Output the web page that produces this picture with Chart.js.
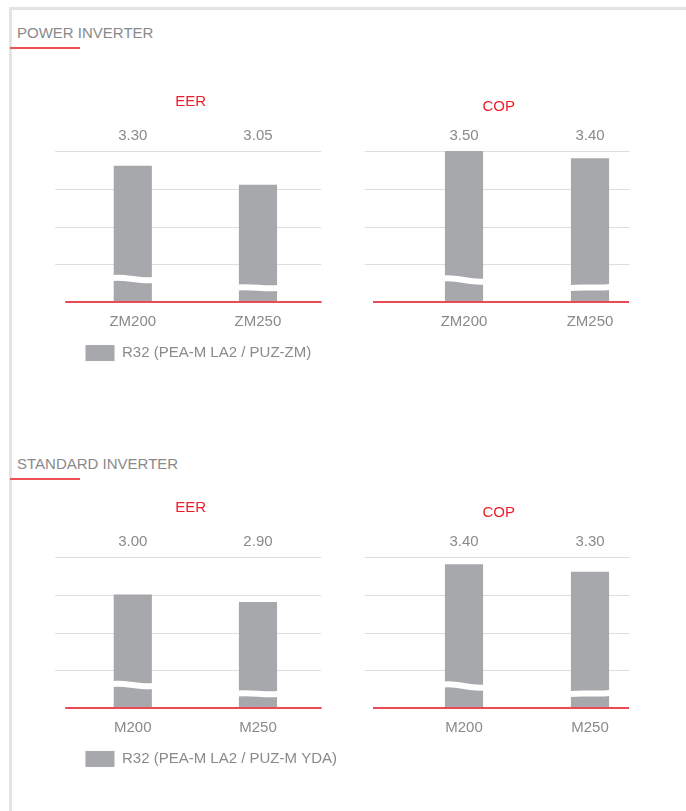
<!DOCTYPE html>
<html>
<head>
<meta charset="utf-8">
<title>Power / Standard Inverter - EER / COP</title>
<script src="https://cdn.jsdelivr.net/npm/chart.js@4.4.1/dist/chart.umd.min.js"></script>
<style>
  body { margin: 0; background: #fff; }
  #page { position: relative; width: 686px; height: 811px; overflow: hidden; font-family: "Liberation Sans", Arial, sans-serif; }
  .frame { position: absolute; left: 9px; top: 7px; right: -10px; bottom: -10px; border-top: 3px solid #e4e4e4; border-left: 3px solid #e4e4e4; }
  .head { position: absolute; left: 17px; font-size: 15px; line-height: 18px; color: #8a8a8a; white-space: nowrap; }
  .rule { position: absolute; left: 10px; width: 70px; height: 2px; background: #ef5058; }
  canvas { position: absolute; }
</style>
</head>
<body>
<div id="page">
  <div class="frame"></div>

  <div class="head" style="top:24px">POWER INVERTER</div>
  <div class="rule" style="top:47px"></div>
  <canvas id="powerEer" width="340" height="286" style="left:20px;top:85px"></canvas>
  <canvas id="powerCop" width="346" height="260" style="left:340px;top:85px"></canvas>

  <div class="head" style="top:455px">STANDARD INVERTER</div>
  <div class="rule" style="top:478px"></div>
  <canvas id="standardEer" width="340" height="286" style="left:20px;top:491px"></canvas>
  <canvas id="standardCop" width="346" height="260" style="left:340px;top:491px"></canvas>
</div>

<script>
// 🔹 DATA
const powerModels = ["ZM200", "ZM250"];
const powerEer = [3.30, 3.05];
const powerCop = [3.50, 3.40];

const standardModels = ["M200", "M250"];
const standardEer = [3.00, 2.90];
const standardCop = [3.40, 3.30];

const axisTicks = [1.5, 2.0, 2.5, 3.0, 3.5];

const powerSeries = "R32 (PEA-M LA2 / PUZ-ZM)";
const standardSeries = "R32 (PEA-M LA2 / PUZ-M YDA)";

// 🎨 STYLE
const GRAY = "#8a8a8a";
const BAR = "#a7a8ac";
const RED = "#ee1d2b";
const RED_LINE = "#eb4b53";
const FONT = '"Liberation Sans", Arial, sans-serif';

Chart.defaults.font.family = FONT;
Chart.defaults.font.size = 15;
Chart.defaults.color = GRAY;

// 🧩 gridlines, axis break, red baseline, value row
const decor = {
    id: "decor",
    beforeDatasetsDraw: (chart, args, opts) => {
        const { ctx, chartArea: a, scales: { y } } = chart;
        ctx.save();
        ctx.strokeStyle = "#dedede";
        ctx.lineWidth = 1;
        y.ticks.forEach(t => {
            if (t.value === y.min) return;
            const py = Math.round(y.getPixelForValue(t.value)) + 0.5;
            ctx.beginPath();
            ctx.moveTo(a.left + opts.grid[0], py);
            ctx.lineTo(a.right + opts.grid[1], py);
            ctx.stroke();
        });
        ctx.restore();
    },
    afterDatasetsDraw: (chart, args, opts) => {
        const { ctx, chartArea: a, scales: { y } } = chart;
        const meta = chart.getDatasetMeta(0);
        const values = chart.data.datasets[0].data;
        const base = y.getPixelForValue(y.min);
        ctx.save();

        // break in each bar
        meta.data.forEach((bar, i) => {
            const [l, r] = opts.breaks[i];
            const x0 = bar.x - bar.width / 2 - 1;
            const x1 = bar.x + bar.width / 2 + 1;
            const y0 = base - l, y1 = base - r;
            const w = x1 - x0;
            ctx.beginPath();
            ctx.moveTo(x0, y0);
            ctx.bezierCurveTo(x0 + w / 3, y0 - 1.5, x0 + 2 * w / 3, y1 + 1.5, x1, y1);
            ctx.strokeStyle = "#fff";
            ctx.lineWidth = 6;
            ctx.stroke();
        });

        // red baseline
        ctx.beginPath();
        ctx.moveTo(a.left + opts.line[0], base);
        ctx.lineTo(a.right + opts.line[1], base);
        ctx.strokeStyle = RED_LINE;
        ctx.lineWidth = 2;
        ctx.stroke();

        // values above the plot
        ctx.fillStyle = GRAY;
        ctx.font = "15px " + FONT;
        ctx.textAlign = "center";
        ctx.textBaseline = "middle";
        meta.data.forEach((bar, i) => ctx.fillText(values[i].toFixed(2), bar.x, a.top - 15));
        ctx.restore();
    }
};

// 📊 CHART
const makeChart = (id, models, values, series, o) => {
    return new Chart(document.getElementById(id), {
        type: "bar",
        data: {
            labels: models,
            datasets: [{
                label: series,
                data: values,
                backgroundColor: BAR,
                borderWidth: 0,
                barThickness: 37.5
            }]
        },
        options: {
            responsive: false,
            animation: false,
            layout: { padding: { left: o.padL, right: o.padR, top: 0, bottom: o.padB } },
            plugins: {
                title: {
                    display: true,
                    text: o.title,
                    color: RED,
                    font: { size: 15, weight: "normal" },
                    padding: { top: o.titleTop, bottom: 48 - o.titleTop }
                },
                legend: {
                    display: o.legend,
                    position: "bottom",
                    align: "end",
                    labels: {
                        boxWidth: 29,
                        boxHeight: 16,
                        padding: 16.5,
                        color: GRAY,
                        font: { size: 15 }
                    }
                },
                tooltip: { enabled: false },
                decor: { grid: o.grid, line: o.line, breaks: o.breaks }
            },
            scales: {
                x: {
                    grid: { display: false, drawTicks: false },
                    border: { display: false },
                    ticks: { padding: 11, color: GRAY, font: { size: 15 } },
                    afterFit: s => { s.height = 26.5; }
                },
                y: {
                    min: axisTicks[0],
                    max: axisTicks[axisTicks.length - 1],
                    ticks: { display: false, stepSize: axisTicks[1] - axisTicks[0] },
                    grid: { display: false, drawTicks: false },
                    border: { display: false },
                    afterFit: s => { s.width = o.axisW; }
                },
                y2: {
                    position: "right",
                    display: o.axis2W > 0,
                    ticks: { display: false },
                    grid: { display: false, drawTicks: false },
                    border: { display: false },
                    afterFit: s => { s.width = o.axis2W; }
                }
            }
        },
        plugins: [decor]
    });
};

const leftBase = { padB: 0, legend: true, grid: [-15, 0.5], line: [-5, 1] };
const rightOpts = { padL: 4.4, padR: 33, padB: 16.5, axisW: 56.6, axis2W: 0, legend: false, grid: [-36.3, -23.7], line: [-28, -24] };
const eerBreaks = [[24, 22], [14.5, 14]];
const copBreaks = [[23.5, 20.5], [14, 15]];

// 🚀 INICIAR
makeChart("powerEer", powerModels, powerEer, powerSeries,
    { ...leftBase, padL: 33.7, padR: 32.3, axisW: 16.5, axis2W: 7.15, title: "EER", titleTop: 8, breaks: eerBreaks });
makeChart("powerCop", powerModels, powerCop, powerSeries,
    { ...rightOpts, title: "COP", titleTop: 12.5, breaks: copBreaks });
makeChart("standardEer", standardModels, standardEer, standardSeries,
    { ...leftBase, padL: 7.9, padR: 6.5, axisW: 42.3, axis2W: 32.95, title: "EER", titleTop: 8, breaks: eerBreaks });
makeChart("standardCop", standardModels, standardCop, standardSeries,
    { ...rightOpts, title: "COP", titleTop: 12.5, breaks: copBreaks });
</script>
</body>
</html>
